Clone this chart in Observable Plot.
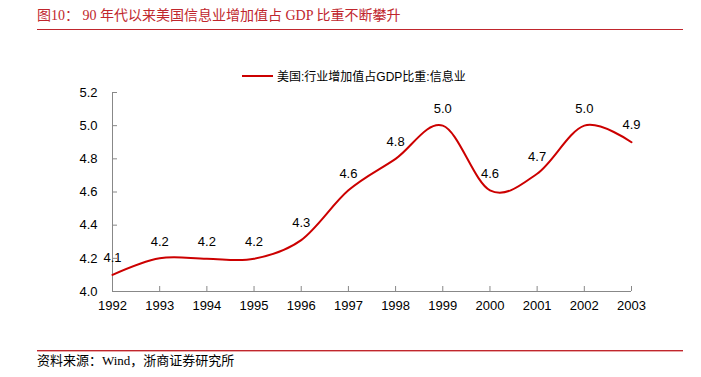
<!DOCTYPE html>
<html>
<head>
<meta charset="utf-8">
<script src="https://cdn.jsdelivr.net/npm/d3@7"></script>
<script src="https://cdn.jsdelivr.net/npm/@observablehq/plot@0.6"></script>
<style>
  html, body { margin: 0; padding: 0; background: #fff; }
  #wrap { position: relative; width: 701px; height: 377px; overflow: hidden; font-family: "Liberation Sans", Arial, "Noto Sans CJK SC", sans-serif; }
  #title { position: absolute; left: 37px; top: 7px; font-family: "Liberation Serif", "Noto Sans CJK SC", serif; font-size: 14px; line-height: 18px; color: #c0262d; white-space: pre; }
  #titleLine { position: absolute; left: 37px; top: 29px; width: 646px; height: 1px; background: #c0262d; }
  #legend { position: absolute; left: 242px; top: 67px; font-size: 12px; color: #000; display: flex; align-items: center; white-space: nowrap; }
  #legend svg { margin-right: 4px; }
  #chart { position: absolute; left: 0; top: 80px; }
  #footLine { position: absolute; left: 37px; top: 350px; width: 646px; height: 1px; background: #c0262d; box-shadow: 0 1px 0 #e9a8a8; }
  #source { position: absolute; left: 37px; top: 352px; font-family: "Liberation Serif", "Noto Sans CJK SC", serif; font-size: 13px; line-height: 17px; color: #000; white-space: pre; }
</style>
</head>
<body>
<div id="wrap">
  <div id="title"></div>
  <div id="titleLine"></div>
  <div id="legend"></div>
  <div id="chart"></div>
  <div id="footLine"></div>
  <div id="source"></div>
</div>
<script>
const titleText = "图10： 90 年代以来美国信息业增加值占 GDP 比重不断攀升";
const seriesName = "美国:行业增加值占GDP比重:信息业";
const sourceText = "资料来源：Wind，浙商证券研究所";
const years = [1992, 1993, 1994, 1995, 1996, 1997, 1998, 1999, 2000, 2001, 2002, 2003];
const values = [4.10, 4.20, 4.197, 4.197, 4.31, 4.61, 4.80, 5.00, 4.61, 4.71, 5.00, 4.90];
const yTicks = [4.0, 4.2, 4.4, 4.6, 4.8, 5.0, 5.2];
const lineColor = "#cc0000";

document.getElementById("title").textContent = titleText;
document.getElementById("source").textContent = sourceText;
document.getElementById("legend").innerHTML =
  `<svg width="31" height="10"><line x1="0" x2="31" y1="5" y2="5" stroke="${lineColor}" stroke-width="2"/></svg><span>${seriesName}</span>`;

const data = years.map((y, i) => ({year: y, value: values[i]}));

const chart = Plot.plot({
  width: 701,
  height: 240,
  marginTop: 12,
  marginBottom: 29,
  marginLeft: 112,
  marginRight: 70,
  style: {fontFamily: "Liberation Sans, Arial, sans-serif", fontSize: "13px", color: "#000", background: "transparent"},
  x: {domain: [1992, 2003], label: null},
  y: {domain: [4.0, 5.2], label: null},
  marks: [
    Plot.axisX({ticks: years, tickSize: -5, tickFormat: () => "", stroke: "#888", label: null}),
    Plot.axisX({ticks: years, tickSize: 0, tickPadding: 9, tickFormat: d => String(d), fontSize: 13, label: null}),
    Plot.axisY({ticks: yTicks, tickSize: -5, tickFormat: () => "", stroke: "#888", label: null}),
    Plot.axisY({ticks: yTicks, tickSize: 0, tickPadding: 15, tickFormat: d => d.toFixed(1), fontSize: 13, label: null}),
    Plot.ruleY([4.0], {stroke: "#888"}),
    Plot.ruleX([1992], {stroke: "#888"}),
    Plot.line(data, {x: "year", y: "value", stroke: lineColor, strokeWidth: 2, curve: "cardinal"}),
    Plot.text(data, {x: "year", y: "value", text: d => d.value.toFixed(1), dy: -17, fontSize: 13, fill: "#000"})
  ]
});
document.getElementById("chart").appendChild(chart);
</script>
</body>
</html>
